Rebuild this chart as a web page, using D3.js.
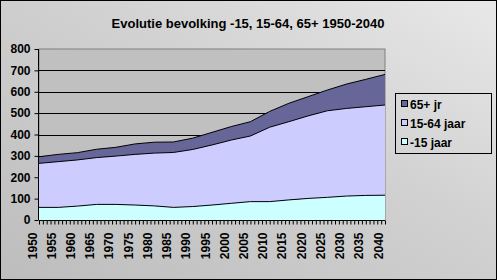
<!DOCTYPE html>
<html>
<head>
<meta charset="utf-8">
<script src="https://cdn.jsdelivr.net/npm/d3@7"></script>
<style>
  body { margin: 0; background: #fff; }
  svg { display: block; font-family: Arial, "Liberation Sans", sans-serif; }
</style>
</head>
<body>
<div id="chart"></div>
<script>
const years = [1950, 1955, 1960, 1965, 1970, 1975, 1980, 1985, 1990, 1995,
  2000, 2005, 2010, 2015, 2020, 2025, 2030, 2035, 2040];
const young = [59, 59, 65, 73, 73, 70, 66, 59, 63, 70, 78, 86, 86, 94, 101, 106, 112, 115, 116];
const working = [206, 214, 216, 219, 226, 237, 247, 257, 267, 281, 296, 307, 348, 366, 386, 405, 410, 415, 422];
const elderly = [31, 34, 34, 39, 41, 49, 51, 49, 53, 59, 63, 67, 74, 86, 90, 97, 114, 128, 143];
const seriesNames = ['-15 jaar', '15-64 jaar', '65+ jr'];
const seriesColors = ['#ccffff', '#ccccff', '#666699'];
const yTicks = [0, 100, 200, 300, 400, 500, 600, 700, 800];

const width = 497;
const height = 280;
const plot = { left: 39, right: 385, top: 49, bottom: 220 };

const svg = d3.select('#chart').append('svg')
  .attr('width', width)
  .attr('height', height);

const defs = svg.append('defs');
const grad = defs.append('linearGradient')
  .attr('id', 'bg')
  .attr('x1', 0).attr('y1', 1).attr('x2', 1).attr('y2', 0);
grad.append('stop').attr('offset', '0%').attr('stop-color', '#bdbdbd');
grad.append('stop').attr('offset', '55%').attr('stop-color', '#d0d0d0');
grad.append('stop').attr('offset', '100%').attr('stop-color', '#e8e8e8');

svg.append('rect')
  .attr('x', 0.5).attr('y', 0.5)
  .attr('width', width - 1).attr('height', height - 1)
  .attr('fill', 'url(#bg)')
  .attr('stroke', '#000');

svg.append('text')
  .attr('x', 248).attr('y', 28)
  .attr('text-anchor', 'middle')
  .attr('font-size', 13).attr('font-weight', 'bold')
  .text('Evolutie bevolking -15, 15-64, 65+ 1950-2040');

const x = d3.scaleLinear().domain([1950, 2040]).range([plot.left, plot.right]);
const y = d3.scaleLinear().domain([0, 800]).range([plot.bottom, plot.top]);

// plot area
svg.append('rect')
  .attr('x', plot.left).attr('y', plot.top)
  .attr('width', plot.right - plot.left).attr('height', plot.bottom - plot.top)
  .attr('fill', '#c0c0c0')
  .attr('stroke', '#808080');

// gridlines
svg.append('g')
  .selectAll('line')
  .data(yTicks.filter((d) => d > 0 && d < 800))
  .join('line')
  .attr('x1', plot.left).attr('x2', plot.right)
  .attr('y1', (d) => Math.round(y(d)) + 0.5)
  .attr('y2', (d) => Math.round(y(d)) + 0.5)
  .attr('stroke', '#000');

// stacked areas
const rows = years.map((yr, i) => ({ year: yr, a: young[i], b: working[i], c: elderly[i] }));
const stacked = d3.stack().keys(['a', 'b', 'c'])(rows);

const area = d3.area()
  .x((d) => x(d.data.year))
  .y0((d) => y(d[0]))
  .y1((d) => y(d[1]));
const topLine = d3.line()
  .x((d) => x(d.data.year))
  .y((d) => y(d[1]));

svg.append('g')
  .selectAll('path')
  .data(stacked)
  .join('path')
  .attr('d', area)
  .attr('fill', (d, i) => seriesColors[i]);

svg.append('g')
  .selectAll('path')
  .data(stacked)
  .join('path')
  .attr('d', topLine)
  .attr('fill', 'none')
  .attr('stroke', '#000')
  .attr('stroke-width', 1);

// axes
const yAxis = d3.axisLeft(y).tickValues(yTicks).tickSize(4).tickPadding(4);
const gy = svg.append('g')
  .attr('transform', `translate(${plot.left - 0.5},0)`)
  .call(yAxis);
gy.selectAll('text')
  .attr('font-size', 12).attr('font-weight', 'bold')
  .attr('font-family', 'Arial, "Liberation Sans", sans-serif')
  .attr('fill', '#000');
gy.selectAll('line, path').attr('stroke', '#000');
gy.select('.domain').attr('d', `M0,${plot.top}V${plot.bottom}`);

const allYears = d3.range(1950, 2041);
const xAxis = d3.axisBottom(x)
  .tickValues(allYears)
  .tickSize(4)
  .tickFormat((d) => (d % 5 === 0 ? d : ''));
const gx = svg.append('g')
  .attr('transform', `translate(0,${plot.bottom + 0.5})`)
  .call(xAxis);
gx.selectAll('line, path').attr('stroke', '#000');
gx.select('.domain').attr('d', `M${plot.left},0H${plot.right}`);
gx.selectAll('text')
  .attr('font-size', 12).attr('font-weight', 'bold')
  .attr('font-family', 'Arial, "Liberation Sans", sans-serif')
  .attr('fill', '#000')
  .attr('text-anchor', 'end')
  .attr('transform', 'rotate(-90)')
  .attr('x', -12).attr('y', -3)
  .attr('dy', '0');

// legend
const lg = svg.append('g').attr('transform', 'translate(395,93)');
lg.append('rect')
  .attr('x', 0.5).attr('y', 0.5)
  .attr('width', 96).attr('height', 60)
  .attr('fill', 'none')
  .attr('stroke', '#000');
const order = [2, 1, 0];
const items = lg.selectAll('g.item')
  .data(order)
  .join('g')
  .attr('class', 'item')
  .attr('transform', (d, i) => `translate(6,${11 + i * 19})`);
items.append('rect')
  .attr('x', 0.5).attr('y', -3.5)
  .attr('width', 6).attr('height', 6)
  .attr('fill', (d) => seriesColors[d])
  .attr('stroke', '#000');
items.append('text')
  .attr('x', 9).attr('y', 4.5)
  .attr('font-size', 12).attr('font-weight', 'bold')
  .text((d) => seriesNames[d]);
</script>
</body>
</html>
